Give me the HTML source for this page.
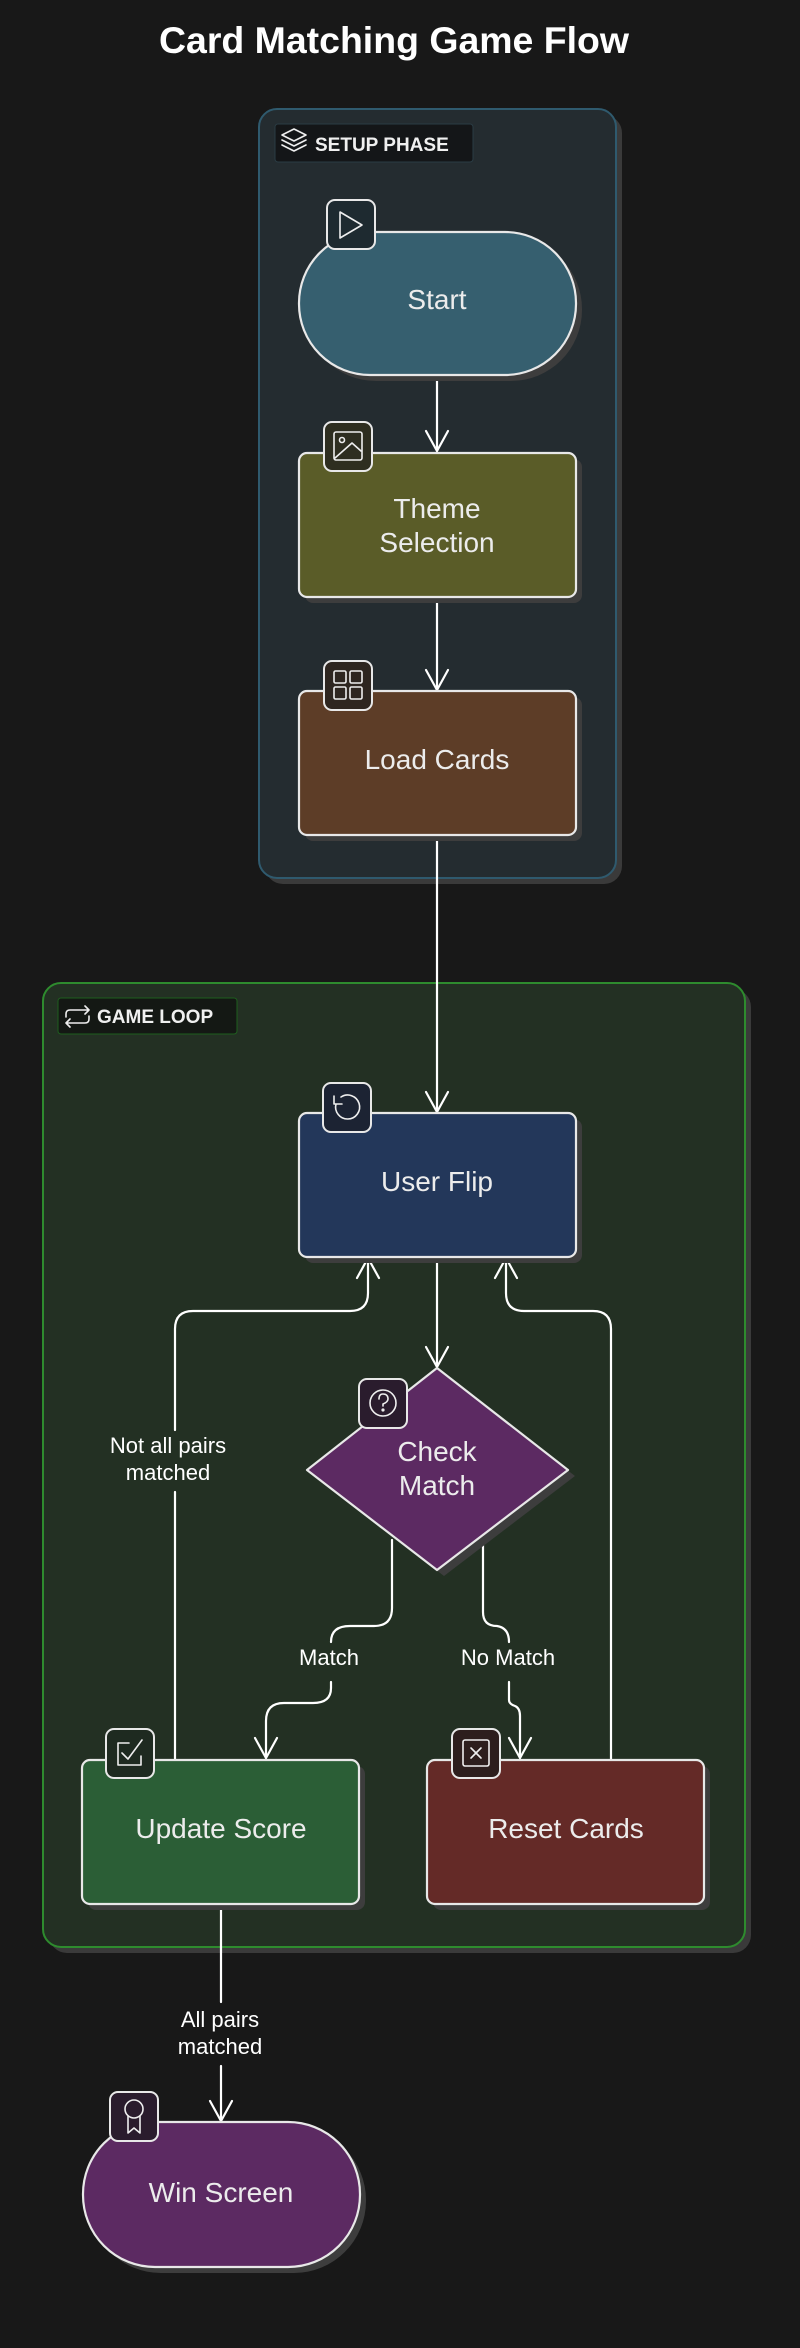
<!DOCTYPE html>
<html><head><meta charset="utf-8"><style>
html,body{margin:0;padding:0;background:#181818;}
svg{display:block;}
text{font-family:"Liberation Sans",Arial,sans-serif;}
</style></head><body>
<svg width="800" height="2348" viewBox="0 0 800 2348" xmlns="http://www.w3.org/2000/svg">
<rect width="800" height="2348" fill="#181818"/>
<text x="394" y="53" text-anchor="middle" font-size="37" font-weight="bold" fill="#fff" textLength="470" lengthAdjust="spacingAndGlyphs">Card Matching Game Flow</text>

<!-- Setup phase -->
<rect x="265" y="115" width="357" height="769" rx="18" fill="#3a3a3a"/>
<rect x="259" y="109" width="357" height="769" rx="18" fill="#242c30" stroke="#2f5a6e" stroke-width="2"/>
<rect x="275" y="124" width="198" height="38" rx="3" fill="#141618" stroke="#2a3c44" stroke-width="1"/>
<g fill="none" stroke="#eee" stroke-width="1.6" stroke-linejoin="round" stroke-linecap="round">
<path d="M282 135 L294 129 L306 135 L294 141 Z"/><path d="M282 140 L294 146 L306 140"/><path d="M282 145 L294 151 L306 145"/>
</g>
<text x="315" y="151" font-size="19" font-weight="bold" fill="#f0f0f0">SETUP PHASE</text>

<!-- Game loop -->
<rect x="49" y="989" width="702" height="964" rx="18" fill="#3a3a3a"/>
<rect x="43" y="983" width="702" height="964" rx="18" fill="#233023" stroke="#2e8b2e" stroke-width="2"/>
<rect x="58" y="998" width="179" height="36" rx="3" fill="#141814" stroke="#1e5e1e" stroke-width="1"/>
<g fill="none" stroke="#eee" stroke-width="1.6" stroke-linecap="round" stroke-linejoin="round">
<path d="M66 1017 v-3 q0-4 4-4 h19 M85 1006 l4 4 -4 4"/><path d="M89 1016 v3 q0 4 -4 4 h-19 M70 1027 l-4 -4 4 -4"/>
</g>
<text x="97" y="1023" font-size="19" font-weight="bold" fill="#f0f0f0">GAME LOOP</text>

<!-- Edges -->
<g fill="none" stroke="#fff" stroke-width="2.2" stroke-linecap="round" stroke-linejoin="round">
<path d="M437 375 V451"/><path d="M426 431 L437 451 L448 431"/>
<path d="M437 597 V690"/><path d="M426 670 L437 690 L448 670"/>
<path d="M437 835 V1112"/><path d="M426 1092 L437 1112 L448 1092"/>
<path d="M437 1257 V1367"/><path d="M426 1347 L437 1367 L448 1347"/>
<path d="M175 1759 V1492 M175 1430 V1329 Q175 1311 193 1311 H350 Q368 1311 368 1293 V1258"/><path d="M357 1278 L368 1258 L379 1278"/>
<path d="M611 1759 V1329 Q611 1311 593 1311 H524 Q506 1311 506 1293 V1258"/><path d="M495 1278 L506 1258 L517 1278"/>
<path d="M392 1540 V1608 Q392 1626 374 1626 H350 Q331 1626 331 1642 M331 1682 V1688 Q331 1703 313 1703 H284 Q266 1703 266 1721 V1758"/><path d="M255 1738 L266 1758 L277 1738"/>
<path d="M483 1540 V1612 Q483 1626 497 1626 Q509 1628 509 1642 M509 1682 V1700 Q509 1704 515 1706 Q520 1708 520 1716 V1758"/><path d="M509 1738 L520 1758 L531 1738"/>
<path d="M221 1904 V2002 M221 2066 V2121"/><path d="M210 2101 L221 2121 L232 2101"/>
</g>
<g font-size="22" fill="#fff" text-anchor="middle">
<text x="168" y="1453">Not all pairs</text><text x="168" y="1480">matched</text>
<text x="329" y="1665">Match</text>
<text x="508" y="1665">No Match</text>
<text x="220" y="2027">All pairs</text><text x="220" y="2054">matched</text>
</g>

<!-- Nodes -->
<g stroke="#e8e8e8" stroke-width="2.2">
<rect x="305" y="238" width="277" height="143" rx="71" fill="#3d3d3d" stroke="none"/>
<rect x="299" y="232" width="277" height="143" rx="71" fill="#365f6f"/>
<rect x="305" y="459" width="277" height="144" rx="8" fill="#3d3d3d" stroke="none"/>
<rect x="299" y="453" width="277" height="144" rx="8" fill="#5a5c28"/>
<rect x="305" y="697" width="277" height="144" rx="8" fill="#3d3d3d" stroke="none"/>
<rect x="299" y="691" width="277" height="144" rx="8" fill="#5d3d27"/>
<rect x="305" y="1119" width="277" height="144" rx="8" fill="#3d3d3d" stroke="none"/>
<rect x="299" y="1113" width="277" height="144" rx="8" fill="#23375a"/>
<path d="M444 1374 L575 1476 L444 1576 L313 1476 Z" fill="#3d3d3d" stroke="none" stroke-linejoin="round"/>
<path d="M437 1368 L568 1470 L437 1570 L307 1470 Z" fill="#5c2a62" stroke-linejoin="round"/>
<rect x="88" y="1766" width="277" height="144" rx="8" fill="#3d3d3d" stroke="none"/>
<rect x="82" y="1760" width="277" height="144" rx="8" fill="#2b5e36"/>
<rect x="433" y="1766" width="277" height="144" rx="8" fill="#3d3d3d" stroke="none"/>
<rect x="427" y="1760" width="277" height="144" rx="8" fill="#642a27"/>
<rect x="89" y="2128" width="277" height="145" rx="72" fill="#3d3d3d" stroke="none"/>
<rect x="83" y="2122" width="277" height="145" rx="72" fill="#5c2a62"/>
</g>
<g font-size="28" fill="#ececec" text-anchor="middle">
<text x="437" y="309">Start</text>
<text x="437" y="518">Theme</text><text x="437" y="552">Selection</text>
<text x="437" y="769">Load Cards</text>
<text x="437" y="1191">User Flip</text>
<text x="437" y="1461">Check</text><text x="437" y="1495">Match</text>
<text x="221" y="1838">Update Score</text>
<text x="566" y="1838">Reset Cards</text>
<text x="221" y="2202">Win Screen</text>
</g>

<!-- Icon badges -->
<g stroke="#e8e8e8" stroke-width="2">
<rect x="327" y="200" width="48" height="49" rx="8" fill="#1e2a30"/>
<rect x="324" y="422" width="48" height="49" rx="8" fill="#2e2e20"/>
<rect x="324" y="661" width="48" height="49" rx="8" fill="#2e2620"/>
<rect x="323" y="1083" width="48" height="49" rx="8" fill="#1c2333"/>
<rect x="359" y="1379" width="48" height="49" rx="8" fill="#2a1c2d"/>
<rect x="106" y="1729" width="48" height="49" rx="8" fill="#1e2a20"/>
<rect x="452" y="1729" width="48" height="49" rx="8" fill="#2d1e1d"/>
<rect x="110" y="2092" width="48" height="49" rx="8" fill="#2a1c2d"/>
</g>
<g fill="none" stroke="#eee" stroke-width="1.6" stroke-linejoin="round" stroke-linecap="round">
<path d="M340 212 L362 225 L340 238 Z"/>
<rect x="334" y="432" width="28" height="28" rx="2"/><circle cx="342" cy="440" r="2.5"/><path d="M335 458 L352 443 L361 451"/>
<rect x="334" y="671" width="12" height="12" rx="1.5"/><rect x="350" y="671" width="12" height="12" rx="1.5"/><rect x="334" y="687" width="12" height="12" rx="1.5"/><rect x="350" y="687" width="12" height="12" rx="1.5"/>
<path d="M336 1104 A12 12 0 1 0 341 1097 M334 1096 V1104 H342"/>
<circle cx="383" cy="1403" r="13"/><path d="M379 1399 Q379 1394 383 1394 Q388 1394 388 1399 Q388 1402 383 1404 V1406"/><circle cx="383" cy="1410" r="0.8" fill="#eee"/>
<path d="M129 1743 H118 V1765 H141 V1756"/><path d="M122 1753 L128 1759 L142 1740"/>
<rect x="463" y="1740" width="26" height="26" rx="2"/><path d="M471 1748 L481 1758 M481 1748 L471 1758"/>
<circle cx="134" cy="2109" r="9"/><path d="M128 2116 V2133 L134 2128 L140 2133 V2116"/>
</g>
</svg>
</body></html>
